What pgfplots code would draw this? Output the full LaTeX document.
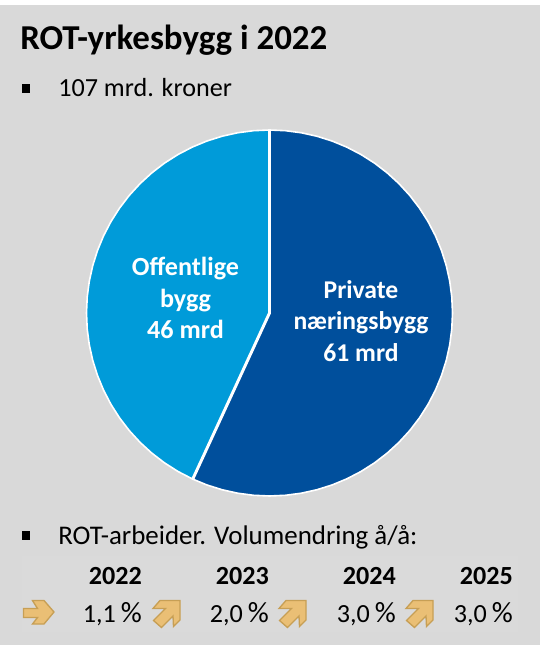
\documentclass[border=0pt]{standalone}
\usepackage{pgfplots}
\pgfplotsset{compat=1.18}
\usepackage{fontspec}
\setmainfont{Carlito}
\definecolor{bg}{HTML}{D9D9D9}
\definecolor{tbl}{HTML}{DADADA}
\definecolor{dblue}{HTML}{004F9C}
\definecolor{lblue}{HTML}{009BD9}
\definecolor{arrF}{HTML}{EABF75}
\definecolor{arrD}{HTML}{C79F55}
\pgfplotsset{base/.style={hide axis,scale only axis,width=405pt,height=483.75pt,clip=false,anchor=south west,at={(0pt,0pt)}}}
\newcommand\bul[1]{\addplot[fill=black,draw=none] coordinates {(21.5,#1) (29.5,#1) (29.5,#1+9) (21.5,#1+9)} --cycle;}
\newcommand\diag[1]{\addplot[fill=arrF,draw=arrD,line width=1pt,x filter/.expression={x+#1}] coordinates {(160,600.5) (180,600.5) (180,620) (173.5,626.5) (173,616) (161.5,627.5) (153.5,620.5) (165.5,608.5) (153,608.5)} --cycle;}
\newcommand\body{\fontsize{19.6pt}{22pt}\selectfont}
\newcommand\pct{\kern3.6pt{\fontsize{22pt}{22pt}\selectfont\%}}
\begin{document}
\begin{tikzpicture}
\useasboundingbox (0pt,0pt) rectangle (405pt,483.75pt);
% page, table band, texts, arrows (pixel coordinates of the picture)
\begin{axis}[base,xmin=0,xmax=540,ymin=0,ymax=645,y dir=reverse]
\addplot[fill=bg,draw=none] coordinates {(0,5) (540,5) (540,645) (0,645)} --cycle;
\addplot[fill=tbl,draw=none] coordinates {(22,556) (518,556) (518,632) (22,632)} --cycle;
\bul{84}
\bul{531}
\node[anchor=base west,font=\fontsize{26.2pt}{28pt}\selectfont\bfseries,inner sep=0pt] at (axis cs:20,50) {ROT-yrkesbygg i 2022};
\node[anchor=base west,font=\body,inner sep=0pt] at (axis cs:58,97) {107 mrd. kroner};
\node[anchor=base west,font=\fontsize{20.2pt}{22pt}\selectfont,inner sep=0pt] at (axis cs:58,544) {ROT-arbeider. Volumendring å/å:};
\node[anchor=base east,font=\body\bfseries,inner sep=0pt] at (axis cs:142,584) {2022};
\node[anchor=base east,font=\body\bfseries,inner sep=0pt] at (axis cs:269,584) {2023};
\node[anchor=base east,font=\body\bfseries,inner sep=0pt] at (axis cs:396,584) {2024};
\node[anchor=base east,font=\body\bfseries,inner sep=0pt] at (axis cs:513,584) {2025};
\node[anchor=base east,font=\body,inner sep=0pt] at (axis cs:142,622) {1,1\pct};
\node[anchor=base east,font=\body,inner sep=0pt] at (axis cs:269,622) {2,0\pct};
\node[anchor=base east,font=\body,inner sep=0pt] at (axis cs:396,622) {3,0\pct};
\node[anchor=base east,font=\body,inner sep=0pt] at (axis cs:513,622) {3,0\pct};
\addplot[fill=arrF,draw=arrD,line width=1pt] coordinates {(23.5,608.5) (37.5,608.5) (32.5,600.5) (44,600.5) (54,612) (44,624) (32.5,624) (37.5,617.5) (23.5,617.5)} --cycle;
\diag{0}
\diag{126}
\diag{253}
\end{axis}
% pie: polar coordinates (angle, radius) around its centre, 61 and 46 mrd
\begin{axis}[base,xmin=-269.5,xmax=270.5,ymin=-332,ymax=313]
\addplot[data cs=polar,fill=dblue,draw=white,line width=1.2pt] coordinates {
(90,183)(85,183)(80,183)(75,183)(70,183)(65,183)(60,183)(55,183)(50,183)(45,183)(40,183)(35,183)(30,183)(25,183)(20,183)(15,183)(10,183)(5,183)(0,183)
(-5,183)(-10,183)(-15,183)(-20,183)(-25,183)(-30,183)(-35,183)(-40,183)(-45,183)(-50,183)(-55,183)(-60,183)(-65,183)(-70,183)(-75,183)(-80,183)(-85,183)(-90,183)
(-95,183)(-100,183)(-105,183)(-110,183)(-114.8,183)(0,0)} --cycle;
\addplot[data cs=polar,fill=lblue,draw=white,line width=1.2pt] coordinates {
(90,183)(95,183)(100,183)(105,183)(110,183)(115,183)(120,183)(125,183)(130,183)(135,183)(140,183)(145,183)(150,183)(155,183)(160,183)(165,183)(170,183)(175,183)(180,183)
(185,183)(190,183)(195,183)(200,183)(205,183)(210,183)(215,183)(220,183)(225,183)(230,183)(235,183)(240,183)(245.2,183)(0,0)} --cycle;
\addplot[data cs=polar,draw=white,line width=2.2pt] coordinates {(90,183)(0,0)(245.2,183)};
\node[align=center,text=white,font=\fontsize{19.6pt}{23.5pt}\selectfont\bfseries,inner sep=0pt] at (axis cs:-84,15) {Offentlige\\bygg\\46 mrd};
\node[align=center,text=white,font=\fontsize{19.2pt}{23.5pt}\selectfont\bfseries,inner sep=0pt] at (axis cs:91.5,-8) {Private\\næringsbygg\\61 mrd};
\end{axis}
\end{tikzpicture}
\end{document}
